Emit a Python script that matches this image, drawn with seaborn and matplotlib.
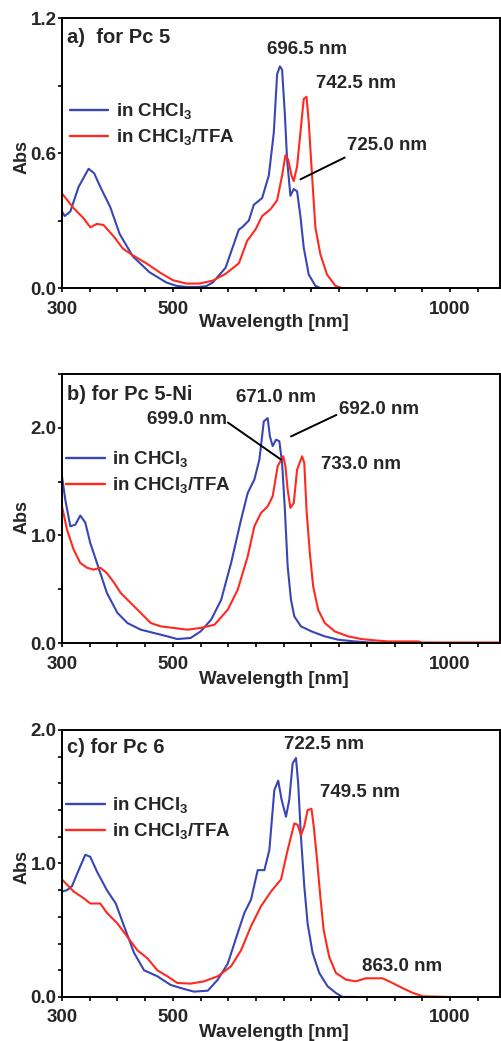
import numpy as np
import pandas as pd
import seaborn as sns
import matplotlib
matplotlib.use('Agg')
import matplotlib.pyplot as plt
from matplotlib.ticker import MultipleLocator, FormatStrFormatter

# ---- data (wavelength nm, absorbance) ----
# a) Pc 5
a_chcl3_wl = [300, 305, 315, 330, 348, 358, 369, 387, 404, 428, 458, 488, 506, 524, 545, 560,
              572, 595, 619, 625, 637, 646, 661, 673, 682, 688, 693, 697, 702, 706, 712, 718,
              724, 730, 736, 745, 757, 766, 775]
a_chcl3_abs = [0.34, 0.32, 0.34, 0.45, 0.53, 0.51, 0.45, 0.36, 0.24, 0.14, 0.07, 0.025, 0.01, 0.005,
               0.005, 0.008, 0.025, 0.09, 0.26, 0.27, 0.30, 0.37, 0.40, 0.50, 0.69, 0.95, 0.985,
               0.97, 0.77, 0.57, 0.41, 0.44, 0.43, 0.32, 0.18, 0.06, 0.01, 0.0, 0.0]
a_tfa_wl = [300, 321, 339, 351, 363, 375, 393, 410, 428, 452, 476, 500, 524, 548, 572, 595,
            619, 634, 649, 661, 676, 688, 697, 703, 708, 714, 718, 724, 730, 736, 741, 745,
            751, 757, 766, 778, 793, 805, 816]
a_tfa_abs = [0.42, 0.355, 0.31, 0.27, 0.285, 0.28, 0.23, 0.175, 0.145, 0.11, 0.07, 0.035, 0.02,
             0.02, 0.033, 0.063, 0.11, 0.21, 0.26, 0.32, 0.35, 0.39, 0.50, 0.59, 0.57, 0.50,
             0.475, 0.54, 0.69, 0.84, 0.85, 0.74, 0.50, 0.27, 0.15, 0.06, 0.01, 0.0, 0.0]

# b) Pc 5-Ni
b_chcl3_wl = [300, 306, 315, 324, 333, 342, 351, 363, 381, 400, 418, 442, 466, 490, 508, 532,
              550, 569, 587, 605, 623, 635, 647, 656, 664, 671, 675, 680, 686, 692, 697, 702,
              707, 713, 719, 731, 750, 774, 798, 828, 852, 882, 949]
b_chcl3_abs = [1.55, 1.33, 1.085, 1.10, 1.185, 1.12, 0.93, 0.745, 0.465, 0.28, 0.186, 0.124,
               0.093, 0.062, 0.037, 0.047, 0.108, 0.217, 0.40, 0.744, 1.147, 1.395, 1.52, 1.705,
               2.06, 2.09, 1.92, 1.83, 1.89, 1.876, 1.674, 1.24, 0.713, 0.403, 0.248, 0.155,
               0.108, 0.062, 0.031, 0.015, 0.006, 0.0, 0.0]
b_tfa_wl = [300, 309, 321, 333, 345, 357, 369, 381, 394, 406, 424, 442, 460, 478, 502, 526,
            550, 575, 599, 617, 635, 647, 659, 671, 680, 689, 699, 703, 707, 712, 718, 724,
            733, 737, 741, 747, 753, 762, 774, 792, 816, 840, 864, 888, 943, 949, 1090]
b_tfa_abs = [1.27, 1.054, 0.868, 0.744, 0.70, 0.682, 0.70, 0.65, 0.56, 0.465, 0.372, 0.28,
             0.186, 0.155, 0.14, 0.124, 0.14, 0.17, 0.31, 0.496, 0.806, 1.085, 1.21, 1.27,
             1.364, 1.643, 1.736, 1.643, 1.426, 1.256, 1.30, 1.61, 1.736, 1.674, 1.24, 0.837,
             0.527, 0.31, 0.186, 0.108, 0.062, 0.037, 0.025, 0.015, 0.015, 0.005, 0.005]

# c) Pc 6
c_chcl3_wl = [300, 309, 318, 330, 342, 351, 363, 381, 397, 412, 430, 448, 472, 496, 520, 538,
              563, 581, 599, 617, 629, 641, 653, 665, 674, 683, 690, 696, 704, 710, 716, 722,
              726, 731, 737, 743, 752, 764, 779, 794, 806, 828]
c_chcl3_abs = [0.79, 0.80, 0.83, 0.95, 1.065, 1.05, 0.94, 0.80, 0.70, 0.53, 0.33, 0.20, 0.155,
               0.09, 0.06, 0.04, 0.047, 0.13, 0.25, 0.48, 0.63, 0.73, 0.95, 0.95, 1.10, 1.55,
               1.62, 1.48, 1.35, 1.48, 1.75, 1.79, 1.60, 1.20, 0.83, 0.55, 0.33, 0.18, 0.08,
               0.03, 0.0, 0.0]
c_tfa_wl = [300, 321, 339, 351, 369, 381, 400, 418, 436, 454, 472, 490, 508, 532, 556, 581,
            605, 623, 641, 659, 677, 695, 707, 719, 725, 731, 737, 743, 750, 754, 760, 766,
            772, 782, 794, 812, 830, 848, 878, 896, 914, 933, 951, 997]
c_tfa_abs = [0.88, 0.79, 0.74, 0.70, 0.70, 0.63, 0.55, 0.45, 0.35, 0.29, 0.20, 0.155, 0.105,
             0.10, 0.117, 0.155, 0.23, 0.35, 0.53, 0.68, 0.79, 0.88, 1.10, 1.30, 1.29, 1.21,
             1.28, 1.40, 1.41, 1.28, 1.03, 0.75, 0.50, 0.30, 0.18, 0.13, 0.117, 0.14, 0.14,
             0.105, 0.067, 0.03, 0.005, 0.0]

lab_chcl3 = r'in CHCl$_\mathbf{3}$'
lab_tfa = r'in CHCl$_\mathbf{3}$/TFA'

sns.set_style('white')
plt.rcParams['font.family'] = ['Liberation Sans', 'DejaVu Sans']
plt.rcParams['font.weight'] = 'bold'
plt.rcParams['mathtext.fontset'] = 'custom'
plt.rcParams['mathtext.rm'] = 'Liberation Sans:bold'
plt.rcParams['mathtext.bf'] = 'Liberation Sans:bold'
plt.rcParams['font.size'] = 13.5

BLUE = '#3846b4'
RED = '#ff2a1f'
pal = {lab_chcl3: BLUE, lab_tfa: RED}

fig = plt.figure(figsize=(5.02, 10.41), dpi=100)
ax_a = fig.add_axes([0.1235, 0.7233, 0.8725, 0.2594])
ax_b = fig.add_axes([0.1235, 0.3823, 0.8725, 0.2584])
ax_c = fig.add_axes([0.1235, 0.0423, 0.8725, 0.2565])

panels = [
    (ax_a, a_chcl3_wl, a_chcl3_abs, a_tfa_wl, a_tfa_abs, 'a)  for Pc 5', (0, 1.2), 0.6, 0.3,
     (0.018, 0.604), 0.963, 0.485, -0.095),
    (ax_b, b_chcl3_wl, b_chcl3_abs, b_tfa_wl, b_tfa_abs, 'b) for Pc 5-Ni', (0, 2.5), 1.0, 0.5,
     (0.010, 0.634), 0.959, 0.47, -0.103),
    (ax_c, c_chcl3_wl, c_chcl3_abs, c_tfa_wl, c_tfa_abs, 'c) for Pc 6', (0, 2.0), 1.0, 0.2,
     (0.010, 0.667), 0.968, 0.487, -0.10),
]

for ax, w1, y1, w2, y2, title, ylim, ymaj, ymin, leg_xy, ty, ylab_y, xlab_y in panels:
    df = pd.concat([
        pd.DataFrame({'wl': w1, 'abs': y1, 'solvent': lab_chcl3}),
        pd.DataFrame({'wl': w2, 'abs': y2, 'solvent': lab_tfa}),
    ])
    sns.lineplot(data=df, x='wl', y='abs', hue='solvent', palette=pal, estimator=None,
                 sort=False, linewidth=1.5, ax=ax)
    ax.set_xlim(300, 1090)
    ax.set_ylim(*ylim)
    ax.set_xticks([300, 500, 1000])
    ax.xaxis.set_minor_locator(MultipleLocator(50))
    ax.yaxis.set_major_locator(MultipleLocator(ymaj))
    ax.yaxis.set_minor_locator(MultipleLocator(ymin))
    ax.yaxis.set_major_formatter(FormatStrFormatter('%.1f'))
    ax.tick_params(which='both', direction='out', bottom=True, left=True, top=False, right=False,
                   length=3, width=1.2, color='black', labelsize=13.5)
    ax.tick_params(axis='x', pad=6)
    ax.tick_params(axis='y', pad=1)
    for lbl in ax.get_xticklabels() + ax.get_yticklabels():
        lbl.set_fontweight('bold')
    for sp in ax.spines.values():
        sp.set_color('black')
        sp.set_linewidth(1.4)
    ax.set_xlabel('Wavelength [nm]', fontsize=13.5, fontweight='bold')
    ax.set_ylabel('Abs', fontsize=13, fontweight='bold')
    ax.xaxis.set_label_coords(0.483, xlab_y)
    ax.yaxis.set_label_coords(-0.072, ylab_y)
    ax.text(0.011, ty, title, transform=ax.transAxes, ha='left', va='top',
            fontsize=14.5, fontweight='bold')
    leg = ax.legend(loc='center left', bbox_to_anchor=leg_xy, frameon=False, borderpad=0,
                    borderaxespad=0, handlelength=2.05, handletextpad=0.4, labelspacing=0.3,
                    fontsize=13.5)
    for line in leg.get_lines():
        line.set_linewidth(1.7)

ann = dict(fontsize=13.5, fontweight='bold', ha='center', va='center')
line = dict(arrowstyle='-', color='black', lw=1.4, shrinkA=0, shrinkB=0)

ax_a.text(742, 1.06, '696.5 nm', **ann)
ax_a.text(830, 0.91, '742.5 nm', **ann)
ax_a.text(886, 0.633, '725.0 nm', **ann)
ax_a.annotate('', xy=(730, 0.483), xytext=(810, 0.58), arrowprops=line)

ax_b.text(686, 2.28, '671.0 nm', **ann)
ax_b.text(526, 2.08, '699.0 nm', **ann)
ax_b.annotate('', xy=(695, 1.705), xytext=(599, 2.05), arrowprops=line)
ax_b.text(871, 2.17, '692.0 nm', **ann)
ax_b.annotate('', xy=(713, 1.92), xytext=(795, 2.12), arrowprops=line)
ax_b.text(840, 1.66, '733.0 nm', **ann)

ax_c.text(772, 1.89, '722.5 nm', **ann)
ax_c.text(837, 1.53, '749.5 nm', **ann)
ax_c.text(913, 0.23, '863.0 nm', **ann)

fig.savefig('out.png', dpi=100)
